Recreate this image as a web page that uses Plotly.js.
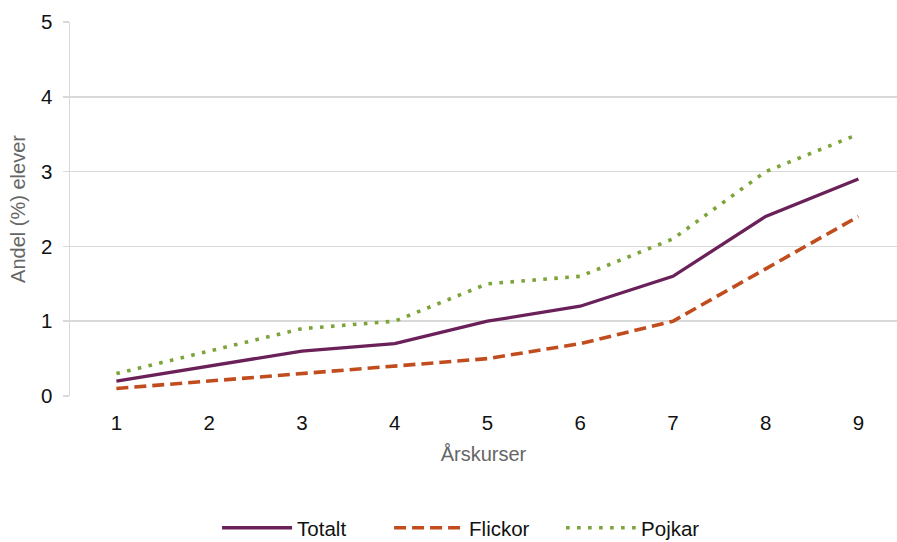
<!DOCTYPE html>
<html><head><meta charset="utf-8">
<script src="https://cdn.plot.ly/plotly-3.0.1.min.js"></script>
<style>html,body{margin:0;padding:0;background:#fff;}#chart{width:897px;height:542px;}</style>
</head><body><div id="chart"></div>
<script>
const categories = ["1","2","3","4","5","6","7","8","9"];
const totalt = [0.2, 0.4, 0.6, 0.7, 1.0, 1.2, 1.6, 2.4, 2.9];
const flickor = [0.1, 0.2, 0.3, 0.4, 0.5, 0.7, 1.0, 1.7, 2.4];
const pojkar = [0.3, 0.6, 0.9, 1.0, 1.5, 1.6, 2.1, 3.0, 3.5];
const yTicks = [0, 1, 2, 3, 4, 5];

const font = "Liberation Sans, Arial, sans-serif";
const traces = [
  {x: categories, y: totalt, name: "Totalt", type: "scatter", mode: "lines",
   line: {color: "#6A2058", width: 3.3}},
  {x: categories, y: flickor, name: "Flickor", type: "scatter", mode: "lines",
   line: {color: "#C14D1E", width: 3.6, dash: "12px,6px"}},
  {x: categories, y: pojkar, name: "Pojkar", type: "scatter", mode: "lines",
   line: {color: "#7DA43A", width: 3.6, dash: "3.6px,7.4px"}}
];
const layout = {
  width: 897, height: 542,
  margin: {l: 70, r: 0, t: 22, b: 146},
  paper_bgcolor: "#fff", plot_bgcolor: "#fff",
  font: {family: font, color: "#111", size: 20.5},
  showlegend: true,
  legend: {orientation: "h", xref: "container", x: 0.242, xanchor: "left",
           yref: "container", y: 0.026, yanchor: "middle",
           font: {size: 20.5, color: "#111"}, traceorder: "normal",
           itemwidth: 70, entrywidth: 87, entrywidthmode: "pixels"},
  xaxis: {type: "category", range: [-0.5, 8.416], showgrid: false, zeroline: false,
          showline: false, ticks: "", ticklabelstandoff: 12, tickfont: {size: 20.5, color: "#111"},
          automargin: false,
          title: {text: "Årskurser", font: {size: 20, color: "#666"}, standoff: 14}},
  yaxis: {range: [0, 5], tickvals: yTicks, showgrid: true, gridcolor: "#d9d9d9", gridwidth: 1.5,
          zeroline: false, showline: true, linecolor: "#d9d9d9", linewidth: 1.5,
          ticks: "outside", ticklen: 6, tickcolor: "#d9d9d9", tickwidth: 1.5,
          ticklabelstandoff: 6, automargin: false,
          tickfont: {size: 20.5, color: "#111"},
          title: {text: "Andel (%) elever", font: {size: 20, color: "#666"}, standoff: 10}}
};
Plotly.newPlot("chart", traces, layout, {displayModeBar: false, staticPlot: true});
</script></body></html>
